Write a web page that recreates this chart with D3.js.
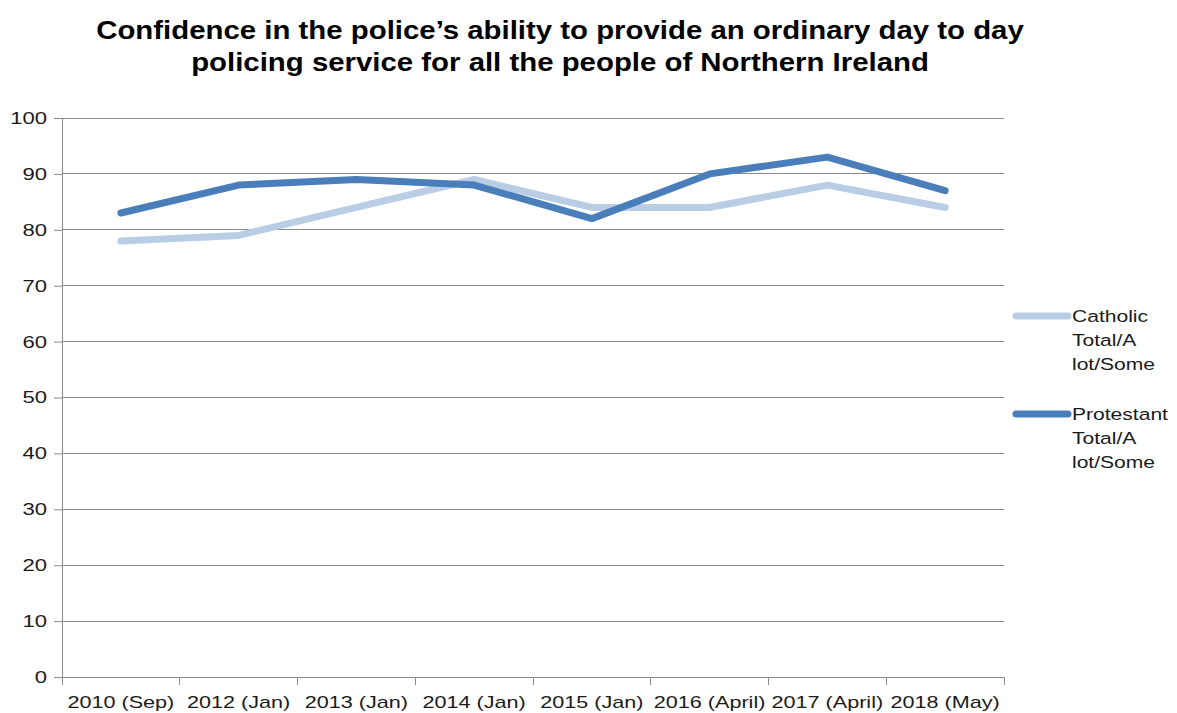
<!DOCTYPE html>
<html><head><meta charset="utf-8">
<script src="https://cdn.jsdelivr.net/npm/d3@7"></script>
<style>body{margin:0;background:#fff;} svg{display:block;font-family:"Liberation Sans",Arial,sans-serif;}</style>
</head><body>
<svg id="c" width="1177" height="713"></svg>
<script>
const categories = ["2010 (Sep)","2012 (Jan)","2013 (Jan)","2014 (Jan)","2015 (Jan)","2016 (April)","2017 (April)","2018 (May)"];
const catholic = [78,79,84,89,84,84,88,84];
const protestant = [83,88,89,88,82,90,93,87];
const yTicks = [0,10,20,30,40,50,60,70,80,90,100];
const titleLines = ["Confidence in the police’s ability to provide an ordinary day to day","policing service for all the people of Northern Ireland"];
const seriesNames = [["Catholic","Total/A","lot/Some"],["Protestant","Total/A","lot/Some"]];
const colors = ["#B9CDE5","#4A7EBB"];

const SX = 1.24; // horizontal text stretch seen in the reference
const svg = d3.select("#c");
const L=62,R=1004,T=118,B=677;
const x = d3.scaleBand().domain(categories).range([L,R]);
const y = d3.scaleLinear().domain([0,100]).range([B,T]);
const stretch = (ax,s)=>`translate(${ax},0) scale(${s},1) translate(${-ax},0)`;

svg.append("g").selectAll("text").data(titleLines).join("text")
  .attr("x",560).attr("y",(d,i)=>39+i*32).attr("text-anchor","middle")
  .attr("font-size",26).attr("font-weight","bold").attr("fill","#000")
  .attr("transform",stretch(560,1.13)).text(d=>d);

// gridlines
svg.append("g").selectAll("line").data(yTicks.filter(d=>d>0)).join("line")
  .attr("x1",L).attr("x2",R).attr("y1",d=>y(d)).attr("y2",d=>y(d))
  .attr("stroke","#8c8c8c").attr("stroke-width",1).attr("shape-rendering","crispEdges");

const ya = svg.append("g").attr("transform",`translate(${L},0)`)
  .call(d3.axisLeft(y).tickValues(yTicks).tickSize(8).tickPadding(7).tickSizeOuter(0));
ya.select(".domain").attr("stroke","#8c8c8c");
ya.selectAll(".tick line").attr("stroke","#8c8c8c");
ya.selectAll("text").attr("font-size",17).attr("fill","#1a1a1a").attr("font-family","Liberation Sans, Arial, sans-serif")
  .attr("transform",stretch(-15,1.3));

const xa = svg.append("g").attr("transform",`translate(0,${B})`)
  .call(d3.axisBottom(x).tickSize(0).tickPadding(19));
xa.select(".domain").attr("stroke","#8c8c8c");
xa.selectAll("text").attr("font-size",17).attr("fill","#1a1a1a").attr("font-family","Liberation Sans, Arial, sans-serif")
  .attr("transform",stretch(0,1.27));
// category boundary ticks
const bounds = categories.map(c=>x(c)).concat([x(categories[categories.length-1])+x.bandwidth()]);
svg.append("g").selectAll("line").data(bounds).join("line")
  .attr("x1",d=>d).attr("x2",d=>d).attr("y1",B).attr("y2",B+8)
  .attr("stroke","#8c8c8c").attr("shape-rendering","crispEdges");

const line = d3.line().x((d,i)=>x(categories[i])+x.bandwidth()/2).y(d=>y(d));
[catholic,protestant].forEach((s,k)=>{
  svg.append("path").datum(s).attr("d",line).attr("fill","none")
    .attr("stroke",colors[k]).attr("stroke-width",7).attr("stroke-linecap","round").attr("stroke-linejoin","round");
});

// legend
const lg = svg.append("g");
seriesNames.forEach((lines,k)=>{
  const y0 = 316 + k*98;
  lg.append("line").attr("x1",1016).attr("x2",1068).attr("y1",y0).attr("y2",y0)
    .attr("stroke",colors[k]).attr("stroke-width",7).attr("stroke-linecap","round");
  lg.append("g").selectAll("text").data(lines).join("text")
    .attr("x",1072).attr("y",(d,i)=>y0+6+i*24).attr("font-size",17).attr("fill","#1a1a1a")
    .attr("transform",stretch(1072,SX)).text(d=>d);
});
</script>
</body></html>
